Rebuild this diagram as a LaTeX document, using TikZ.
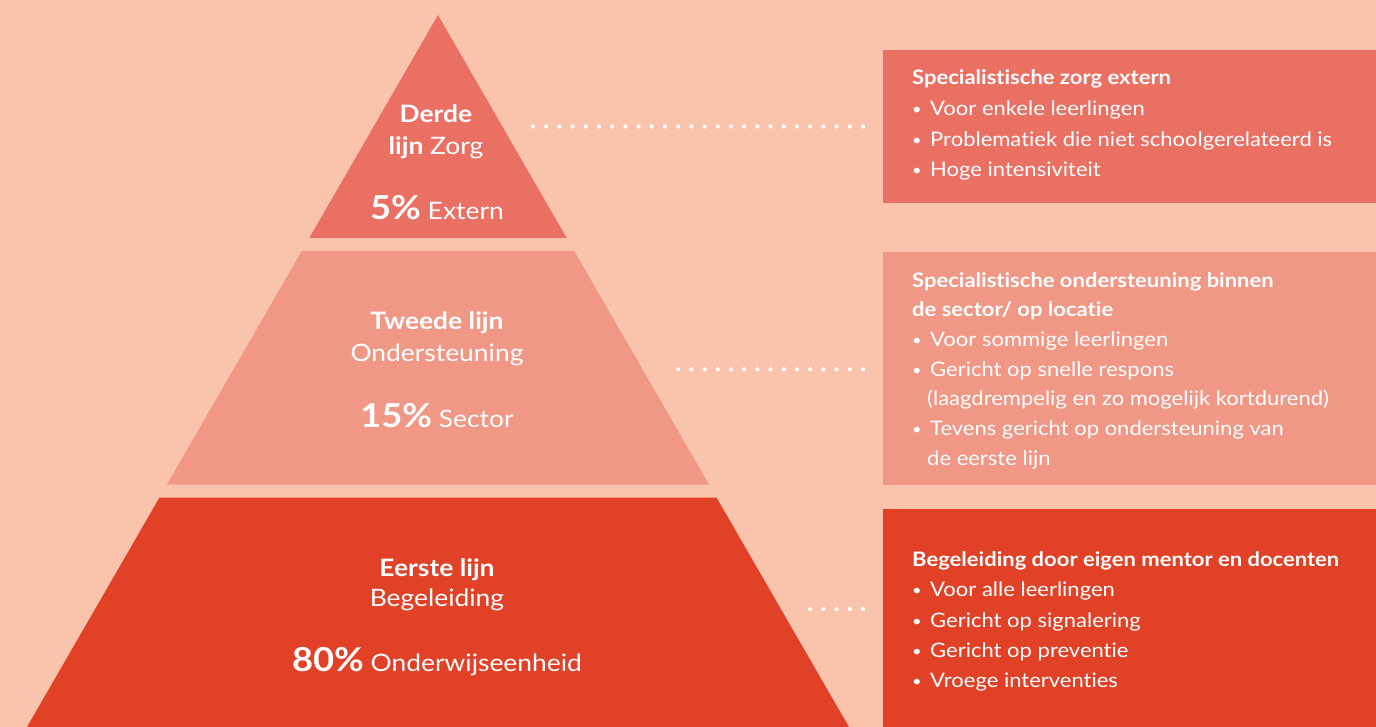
\documentclass[tikz,border=0pt]{standalone}
\usepackage{fontspec}
\setmainfont[FakeStretch=1.1, Ligatures=NoCommon]{Lato}
\definecolor{bg}{HTML}{F9C4AB}
\definecolor{cTop}{HTML}{EA7064}
\definecolor{cMid}{HTML}{F09785}
\definecolor{cBot}{HTML}{E04127}
\tikzset{
  infobox/.style={anchor=north west, inner sep=0pt, minimum width=493pt},
  boxtxt/.style={text=white, anchor=base west, inner sep=0pt, font=\fontsize{20}{24}\selectfont},
  boxtitle/.style={boxtxt, font=\fontsize{20}{24}\selectfont\bfseries},
  pyrtxt/.style={text=white, anchor=base, inner sep=0pt, font=\fontsize{24}{28}\selectfont},
  dotline/.style={white, line width=4.2pt, line cap=round, dash pattern=on 0pt off 13.2pt}
}
\newcommand{\bul}{\makebox[18pt][l]{\raisebox{1pt}{\scalebox{0.75}{\textbullet}}}}
\newcommand{\pct}[1]{{\fontsize{33}{38}\selectfont\bfseries #1}}
\begin{document}
\begin{tikzpicture}[x=1pt,y=-1pt]
\useasboundingbox (0,0) rectangle (1376,727);
\fill[bg] (0,0) rectangle (1376,727);
% pyramid
\fill[cTop] (438,15) -- (566.7,238) -- (309.3,238) -- cycle;
\fill[cMid] (301.8,251) -- (574.2,251) -- (709.0,484.5) -- (167.0,484.5) -- cycle;
\fill[cBot] (159.5,497.5) -- (716.5,497.5) -- (849,727) -- (27,727) -- cycle;
% boxes
\node[infobox, fill=cTop, minimum height=153pt] (b1) at (883,50) {};
\node[infobox, fill=cMid, minimum height=233pt] (b2) at (883,252) {};
\node[infobox, fill=cBot, minimum height=218pt] (b3) at (883,509) {};
% pyramid labels
\node[pyrtxt] (t1a) at (436,123) {\bfseries Derde};
\node[pyrtxt] (t1b) at (436,155) {{\bfseries lijn} Zorg};
\node[pyrtxt] (t1c) at (437,220) {\pct{5\%} Extern};
\node[pyrtxt] (t2a) at (437,330) {\bfseries Tweede lijn};
\node[pyrtxt] (t2b) at (437,361.5) {Ondersteuning};
\node[pyrtxt] (t2c) at (437,427) {\pct{15\%} Sector};
\node[pyrtxt] (t3a) at (437,576) {\bfseries Eerste lijn};
\node[pyrtxt] (t3b) at (437,606.5) {Begeleiding};
\node[pyrtxt] (t3c) at (437,671.5) {\pct{80\%} Onderwijseenheid};
% dotted connectors
\coordinate (d1e) at (863,126.5);
\coordinate (d1s) at (532.7,126.5);
\coordinate (d2e) at (863,369.3);
\coordinate (d2s) at (677.9,369.3);
\coordinate (d3e) at (863,609);
\coordinate (d3s) at (809.9,609);
\draw[dotline] (d1e) -- (d1s);
\draw[dotline] (d2e) -- (d2s);
\draw[dotline] (d3e) -- (d3s);
% box 1 text
\node[boxtitle] (a1) at (912,85) {Specialistische zorg extern};
\node[boxtxt] (a2) at (912,116) {\bul Voor enkele leerlingen};
\node[boxtxt] (a3) at (912,146.5) {\bul Problematiek die niet schoolgerelateerd is};
\node[boxtxt] (a4) at (912,177) {\bul Hoge intensiviteit};
% box 2 text
\node[boxtitle] (m1) at (912,287.5) {Specialistische ondersteuning binnen};
\node[boxtitle] (m2) at (912,316.5) {de sector/ op locatie};
\node[boxtxt] (m3) at (912,346.5) {\bul Voor sommige leerlingen};
\node[boxtxt] (m4) at (912,376.5) {\bul Gericht op snelle respons};
\node[boxtxt] (m5) at (927,405.5) {(laagdrempelig en zo mogelijk kortdurend)};
\node[boxtxt] (m6) at (912,435) {\bul Tevens gericht op ondersteuning van};
\node[boxtxt] (m7) at (927,465) {de eerste lijn};
% box 3 text
\node[boxtitle] (e1) at (912,566.5) {Begeleiding door eigen mentor en docenten};
\node[boxtxt] (e2) at (912,596.5) {\bul Voor alle leerlingen};
\node[boxtxt] (e3) at (912,627.5) {\bul Gericht op signalering};
\node[boxtxt] (e4) at (912,657) {\bul Gericht op preventie};
\node[boxtxt] (e5) at (912,687.5) {\bul Vroege interventies};
\end{tikzpicture}
\end{document}
